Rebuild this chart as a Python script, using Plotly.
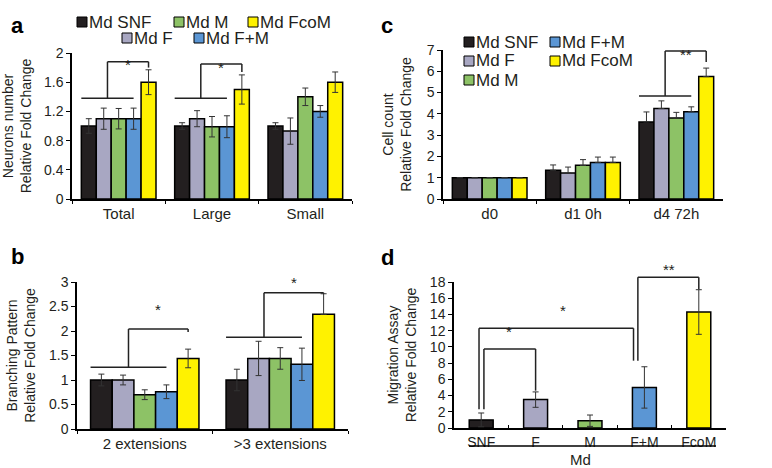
import plotly.graph_objects as go

# ---- data ----
groups = ["Md SNF", "Md F", "Md M", "Md F+M", "Md FcoM"]
colors = ["#231f20", "#a8a7c2", "#8dc266", "#5b96d4", "#fff200"]

# panel a : neurons number
a_cats = ["Total", "Large", "Small"]
a_mean = [[1.0, 1.0, 1.0], [1.1, 1.1, 0.93], [1.1, 0.99, 1.4], [1.1, 0.99, 1.2], [1.6, 1.5, 1.6]]
a_err = [[0.1, 0.045, 0.045], [0.145, 0.11, 0.18], [0.14, 0.14, 0.12], [0.145, 0.15, 0.08], [0.17, 0.2, 0.14]]

# panel b : branching pattern
b_cats = ["2 extensions", ">3 extensions"]
b_mean = [[1.0, 1.0], [1.0, 1.44], [0.7, 1.44], [0.76, 1.32], [1.44, 2.34]]
b_err = [[0.12, 0.22], [0.1, 0.35], [0.1, 0.22], [0.14, 0.33], [0.19, 0.42]]

# panel c : cell count
c_cats = ["d0", "d1 0h", "d4 72h"]
c_mean = [[1, 1.35, 3.62], [1, 1.22, 4.25], [1, 1.58, 3.8], [1, 1.72, 4.1], [1, 1.72, 5.75]]
c_err = [[0, 0.25, 0.47], [0, 0.28, 0.36], [0, 0.27, 0.27], [0, 0.25, 0.23], [0, 0.25, 0.4]]

# panel d : migration assay
d_cats = ["SNF", "F", "M", "F+M", "FcoM"]
d_mean = [1.0, 3.5, 0.9, 5.0, 14.3]
d_err = [0.85, 0.95, 0.7, 2.55, 2.75]

W, H = 772, 468
FONT = "Liberation Sans, Arial, sans-serif"
INK = "#231f20"
BARGAP = 0.2

def px(x):
    return x / W

def py(y):
    return 1 - y / H

# plot areas in pixels: (left, right, top, bottom)
boxes = {
    "a": (72, 352, 53, 199),
    "c": (443, 723, 50, 199),
    "b": (77, 348, 282, 429),
    "d": (454, 726, 282, 428),
}
axmap = {"a": ("x", "y"), "c": ("x2", "y2"), "b": ("x3", "y3"), "d": ("x4", "y4")}
ymax = {"a": 2, "c": 7, "b": 3, "d": 18}

fig = go.Figure()

def grouped(panel, cats, mean, err, minus=None):
    xa, ya = axmap[panel]
    for i, g in enumerate(groups):
        eb = dict(type="data", array=err[i], color="#333", thickness=1, width=3, visible=True)
        if minus is not None:
            eb["symmetric"] = False
            eb["arrayminus"] = minus[i]
        fig.add_trace(go.Bar(x=cats, y=mean[i], name=g, marker=dict(color=colors[i], line=dict(color="black", width=1.5)),
                             error_y=eb, xaxis=xa, yaxis=ya, showlegend=False))

grouped("a", a_cats, a_mean, a_err)
grouped("c", c_cats, c_mean, c_err, minus=[[0] * 3 for _ in groups])
b_minus = [list(e) for e in b_err]
b_minus[4][1] = 0
grouped("b", b_cats, b_mean, b_err, minus=b_minus)

fig.add_trace(go.Bar(x=d_cats, y=d_mean, width=0.44, marker=dict(color=colors, line=dict(color="black", width=1.5)),
                     error_y=dict(type="data", array=d_err, color="#333", thickness=1, width=3),
                     xaxis="x4", yaxis="y4", showlegend=False))

# ---- axes ----
titles = {"a": "Neurons number<br>Relative Fold Change",
          "c": "Cell count<br>Relative Fold Change",
          "b": "Branching Pattern<br>Relative Fold Change",
          "d": "Migration Assay<br>Relative Fold Change"}
dticks = {"a": 0.4, "c": 1, "b": 0.5, "d": 2}
standoffs = {"a": 10, "c": 12, "b": 10, "d": 10}
for p, (l, r, t, b) in boxes.items():
    xa, ya = axmap[p]
    xk = "xaxis" + xa[1:]
    yk = "yaxis" + ya[1:]
    fig.layout[xk] = dict(domain=[px(l), px(r)], anchor=ya, showline=True, linecolor="black", linewidth=1.5,
                          ticks="inside" if p == "d" else "outside", tickson="boundaries", ticklen=3,
                          tickcolor="black", tickfont=dict(size=14 if p == "d" else 15, color=INK),
                          showgrid=False, zeroline=False, fixedrange=True, automargin=False)
    fig.layout[yk] = dict(domain=[py(b), py(t)], anchor=xa, range=[0, ymax[p]], dtick=dticks[p],
                          showline=True, linecolor="black", linewidth=1.5, ticks="outside", ticklen=4,
                          tickcolor="black", tickfont=dict(size=14, color=INK), showgrid=False, zeroline=False,
                          title=dict(text=titles[p], font=dict(size=14, color=INK), standoff=standoffs[p]),
                          fixedrange=True, automargin=False)

# ---- significance brackets ----
def ypaper(panel, v):
    l, r, t, b = boxes[panel]
    return py(b - (b - t) * v / ymax[panel])

def barx(k, i):
    return k - (1 - BARGAP) / 2 + (1 - BARGAP) / 5 * (i + 0.5)

def line(panel, x0, y0, x1, y1):
    fig.add_shape(type="line", xref=axmap[panel][0], yref="paper", x0=x0, x1=x1,
                  y0=ypaper(panel, y0), y1=ypaper(panel, y1), line=dict(color="#222", width=1.5))

def star(panel, x, v, text="*"):
    fig.add_annotation(xref=axmap[panel][0], yref="paper", x=x, y=ypaper(panel, v), text=text,
                       showarrow=False, font=dict(size=15, color=INK))

def group_bracket(panel, k, base, top, drop, starv, text="*"):
    left = k - (1 - BARGAP) / 2
    right = barx(k, 3)
    mid = (left + right) / 2
    line(panel, left, base, right, base)
    line(panel, mid, base, mid, top)
    line(panel, mid, top, barx(k, 4), top)
    line(panel, barx(k, 4), top, barx(k, 4), drop)
    star(panel, (mid + barx(k, 4)) / 2, starv, text)

group_bracket("a", 0, 1.38, 1.88, 1.8, 1.99)
group_bracket("a", 1, 1.38, 1.85, 1.74, 1.94)
group_bracket("b", 0, 1.26, 2.04, 1.98, 2.22)
group_bracket("b", 1, 1.87, 2.78, 2.76, 2.98)
group_bracket("c", 2, 4.84, 6.95, 6.44, 7.3, "**")

# panel d brackets
line("d", -0.04, 2.3, -0.04, 12.3)
line("d", -0.04, 12.3, 2.8, 12.3)
line("d", 2.8, 12.3, 2.8, 8.3)
star("d", 1.5, 13.2)
line("d", 0.05, 2.3, 0.05, 9.75)
line("d", 0.05, 9.75, 1.0, 9.75)
line("d", 1.0, 9.75, 1.0, 4.6)
star("d", 0.52, 10.6)
line("d", 2.88, 8.3, 2.88, 18.6)
line("d", 2.88, 18.6, 4.0, 18.6)
line("d", 4.0, 18.6, 4.0, 17.1)
star("d", 3.45, 19.6, "**")

# Md underline for panel d
fig.add_shape(type="line", xref="paper", yref="paper", x0=px(469), x1=px(716), y0=py(446), y1=py(446),
              line=dict(color="black", width=1.5))
fig.add_annotation(xref="paper", yref="paper", x=px(592), y=py(450), yanchor="top", text="Md", showarrow=False,
                   font=dict(size=15, color=INK), borderpad=0)

# ---- legends (drawn as swatches + text) ----
def swatch(i, x, y):
    fig.add_shape(type="rect", xref="paper", yref="paper", x0=px(x), x1=px(x + 10), y0=py(y - 5), y1=py(y + 5),
                  fillcolor=colors[i], line=dict(color="black", width=1))
    fig.add_annotation(xref="paper", yref="paper", x=px(x + 10), y=py(y), xanchor="left", yanchor="middle",
                       text=groups[i], showarrow=False, font=dict(size=17, color=INK))

for i, x, y in [(0, 77, 22), (2, 174, 22), (4, 248, 22), (1, 122, 38), (3, 194, 38)]:
    swatch(i, x, y)
for i, x, y in [(0, 464, 42), (1, 464, 61), (2, 464, 80), (3, 550, 42), (4, 550, 61)]:
    swatch(i, x, y)

# panel letters
for lab, x, y in [("a", 9, 11), ("c", 387, 11), ("b", 9, 256), ("d", 387, 257)]:
    fig.add_annotation(xref="paper", yref="paper", x=px(x), y=py(y), text="<b>%s</b>" % lab, showarrow=False,
                       font=dict(size=22, color="black"))

fig.update_layout(width=W, height=H, margin=dict(l=0, r=0, t=0, b=0), barmode="group", bargap=BARGAP,
                  bargroupgap=0, plot_bgcolor="white", paper_bgcolor="white", showlegend=False,
                  font=dict(family=FONT, color=INK))

fig.write_html("out.html", post_script="document.body.style.margin='0';", config={"displayModeBar": False})
